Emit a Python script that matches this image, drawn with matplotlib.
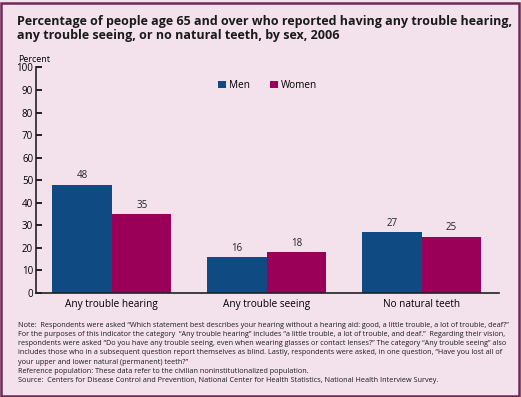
import numpy as np
import matplotlib.pyplot as plt
from matplotlib.patches import Rectangle

# ============================================================
# Data
# ============================================================
categories = ['Any trouble hearing', 'Any trouble seeing', 'No natural teeth']
men = [48, 16, 27]
women = [35, 18, 25]
yticks = list(range(0, 101, 10))

title = ('Percentage of people age 65 and over who reported having any trouble hearing,\n'
         'any trouble seeing, or no natural teeth, by sex, 2006')
note = ('Note:  Respondents were asked \u201cWhich statement best describes your hearing without a hearing aid: good, a little trouble, a lot of trouble, deaf?\u201d\n'
        'For the purposes of this indicator the category  \u201cAny trouble hearing\u201d includes \u201ca little trouble, a lot of trouble, and deaf.\u201d  Regarding their vision,\n'
        'respondents were asked \u201cDo you have any trouble seeing, even when wearing glasses or contact lenses?\u201d The category \u201cAny trouble seeing\u201d also\n'
        'includes those who in a subsequent question report themselves as blind. Lastly, respondents were asked, in one question, \u201cHave you lost all of\n'
        'your upper and lower natural (permanent) teeth?\u201d\n'
        'Reference population: These data refer to the civilian noninstitutionalized population.\n'
        'Source:  Centers for Disease Control and Prevention, National Center for Health Statistics, National Health Interview Survey.')

BG = '#f3e2ec'
MEN_C = '#0f4a82'
WOMEN_C = '#9a0058'
FRAME = '#6e2a55'

plt.rcParams['font.family'] = ['Open Sans', 'DejaVu Sans']

fig = plt.figure(figsize=(5.21, 3.97), dpi=100, facecolor=BG)
ax = fig.add_axes([0.069, 0.262, 0.889, 0.568])
ax.set_facecolor(BG)

x = np.arange(len(categories))
w = 0.385
b1 = ax.bar(x - w / 2, men, w, color=MEN_C, label='Men')
b2 = ax.bar(x + w / 2, women, w, color=WOMEN_C, label='Women')
for bars, vals in ((b1, men), (b2, women)):
    for r, v in zip(bars, vals):
        ax.text(r.get_x() + r.get_width() / 2, v + 1.5, str(v), ha='center',
                va='bottom', fontsize=7, color='#222222')

ax.set_xlim(-0.49, 2.5)
ax.set_ylim(0, 100)
ax.set_yticks(yticks)
ax.set_xticks(x)
ax.set_xticklabels(categories, fontsize=7.2)
ax.tick_params(axis='y', direction='in', length=4, width=1.2, labelsize=7, pad=2)
ax.tick_params(axis='x', length=0, pad=4)
for s in ('top', 'right'):
    ax.spines[s].set_visible(False)
for s in ('left', 'bottom'):
    ax.spines[s].set_linewidth(1.2)
    ax.spines[s].set_color('#222222')

ax.legend(loc='upper center', bbox_to_anchor=(0.5, 0.985), ncol=2, frameon=False,
          fontsize=7.2, handlelength=0.8, handleheight=0.8, handletextpad=0.3,
          columnspacing=2.0)

fig.text(0.034, 0.838, 'Percent', fontsize=6.5, ha='left', va='bottom')
fig.text(0.032, 0.962, title, fontsize=9.0, fontweight='bold', ha='left', va='top',
         linespacing=1.05, color='#1a1a1a')
fig.text(0.034, 0.19, note, fontsize=5.2, ha='left', va='top', linespacing=1.45,
         color='#1a1a1a')

fig.patches.append(Rectangle((0.002, 0.003), 0.994, 0.99, transform=fig.transFigure,
                             fill=False, edgecolor=FRAME, linewidth=1.8))

fig.savefig('out.png', dpi=100, facecolor=BG)
